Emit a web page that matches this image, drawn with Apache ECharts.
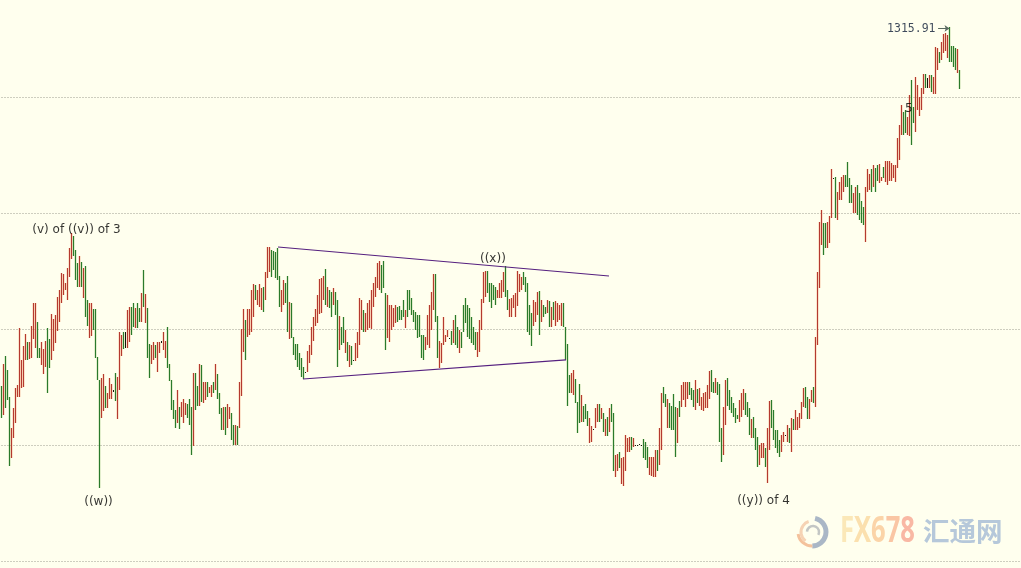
<!DOCTYPE html>
<html><head><meta charset="utf-8">
<style>html,body{margin:0;padding:0;background:#ffffee}#c{width:1021px;height:568px}</style>
<script src="https://cdn.jsdelivr.net/npm/echarts@6/dist/echarts.min.js"></script>
</head><body><div id="c"></div>
<script>
const highs = [
1285.1,1287.0,1287.7,1286.5,1284.1,1281.5,1283.2,1284.9,1285.2,1290.1,1287.3,1288.5,1289.6,1288.9,1288.9,1290.3,1292.2,1292.2,1290.6,1288.4,1288.9,1288.3,1289.0,1290.1,1289.1,1291.3,1290.9,1291.2,1292.8,1293.4,1294.8,1294.7,1294.0,1295.3,1297.0,1298.3,1298.0,1296.8,1295.7,1296.3,1295.8,1295.3,1295.4,1292.5,1292.2,1292.2,1291.7,1291.7,
1287.6,1285.6,1285.8,1286.1,1285.1,1284.5,1285.8,1285.3,1284.7,1286.2,1285.9,1289.7,1289.5,1289.7,1289.7,1291.6,1291.9,1291.9,1292.2,1291.8,1292.2,1291.8,1293.1,1295.1,1293.0,1291.8,1288.7,1288.6,1288.9,1288.6,1288.9,1288.9,1289.0,1289.7,1289.0,1290.2,1287.0,1285.6,1283.9,1283.0,1284.7,1283.3,1283.7,1284.0,1283.6,1283.5,1284.0,1283.3,1286.2,1286.2,1285.1,1287.0,1286.9,1285.4,1285.4,1285.4,1285.0,1285.2,1285.4,1287.0,1286.1,1284.5,1283.2,1283.3,1283.3,1283.5,1283.3,1282.8,1281.7,1281.7,1281.6,1285.4,
1290.0,1291.7,1290.8,1291.7,1291.7,1293.4,1293.9,1293.8,1293.4,1293.9,1293.5,1293.6,1294.9,1297.1,1297.1,1296.8,1296.7,1296.6,1297.0,1294.6,1293.4,1294.2,1294.0,1294.6,1292.3,1292.2,1289.3,1288.7,1288.7,1287.9,1287.5,1286.7,1286.3,1288.1,1288.6,1290.2,1291.0,1291.7,1292.9,1294.3,1294.4,1294.6,1295.2,1293.6,1293.4,1293.2,1293.5,1293.2,1292.5,1291.1,1290.2,1291.0,1289.9,1288.9,1288.6,1288.5,1287.3,1288.8,1289.7,1292.7,1292.5,1291.6,1291.4,1292.2,1292.5,1293.4,1294.0,1294.5,1295.7,1295.9,1295.5,1295.9,1293.1,1292.9,1292.1,1292.1,1291.8,1292.1,1291.9,1292.0,1291.6,1292.5,1291.6,1293.4,1293.4,1292.7,1291.6,1291.5,1291.2,1291.2,1289.5,1289.5,1289.3,1291.2,1292.1,1293.2,1294.7,1294.7,1291.1,1289.0,1288.8,1291.0,1289.5,1289.9,1289.2,1289.8,1290.8,1291.2,1290.2,1289.9,1289.7,1292.1,1292.7,1292.1,1291.8,1291.0,1290.2,1289.7,1289.7,1290.8,
1292.6,1294.9,1295.0,1295.0,1294.0,1294.0,1293.8,1293.6,1293.4,1294.0,1294.2,1294.9,1295.4,1293.4,1292.6,1292.7,1292.9,1293.1,1295.0,1294.7,1294.5,1294.9,1294.5,1294.0,1292.1,1291.4,1292.5,1292.3,1293.2,1293.3,1292.5,1292.1,1291.9,1292.5,1292.4,1291.9,1292.3,1292.4,1292.2,1292.1,1292.2,1292.2,1290.2,1288.7,1286.0,1286.2,1286.5,1285.7,1283.7,1285.3,1284.3,1283.4,1283.5,1282.9,1282.3,1281.6,1281.4,1283.2,1283.5,1283.5,1283.2,1282.8,1282.2,1282.4,1283.2,1283.5,1282.8,1279.1,1279.2,1279.4,1278.9,1279.0,1280.9,1280.6,1280.7,1280.7,1280.6,1280.0,1280.0,1280.1,1280.0,1280.5,1280.3,1279.8,1279.0,1279.0,1279.0,1279.6,1279.6,1281.5,1284.5,1285.0,1284.4,1284.0,1283.6,1283.4,1284.4,1283.3,1283.2,1283.8,1285.2,1285.4,1285.4,1285.4,1285.4,1284.9,1284.7,1285.6,1284.8,1284.9,1284.1,1284.5,1284.6,1285.2,1286.4,1286.5,1285.4,1285.8,1285.4,1285.3,
1281.5,1283.3,1285.6,1285.8,1284.7,1284.1,1283.6,1283.2,1282.6,1283.9,1284.5,1284.8,1284.5,1283.7,1283.2,1282.2,1282.4,1281.5,1280.7,1280.0,1280.2,1280.2,1279.7,1281.5,1283.8,1283.9,1283.0,1281.3,1281.3,1280.4,1280.9,1281.1,1280.9,1281.7,1281.5,1282.3,1282.2,1283.0,1282.4,1282.8,1283.7,1284.9,1285.0,1284.1,1284.0,1284.7,1285.0,1289.3,1294.9,1299.2,1300.3,1299.1,1299.1,1299.2,1299.7,1303.8,1303.0,1303.1,1301.8,1302.7,1303.1,1303.3,1303.3,1304.4,1303.0,1302.4,1301.7,1302.2,1302.4,1301.7,1301.0,1300.5,1302.2,
1303.8,1303.4,1303.8,1304.1,1303.9,1304.1,1304.2,1303.1,1304.0,1304.5,1304.5,1304.5,1304.3,1304.1,1304.1,1306.5,1307.6,1309.3,1308.7,1308.9,1308.3,1310.2,1311.5,1309.1,1311.7,1311.0,1310.0,1310.8,1312.0,1312.0,1311.6,1311.9,1311.9,1311.7,1314.3,1314.2,1313.9,1314.7,1315.4,1315.5,1315.3,1316.0,1314.4,1314.4,1314.2,1314.1,1312.3
];
const lows = [
1282.3,1282.6,1283.2,1283.9,1278.2,1278.9,1280.6,1281.9,1284.1,1284.1,1284.9,1285.0,1287.3,1287.3,1287.4,1287.5,1289.1,1288.4,1287.5,1287.5,1286.9,1286.1,1286.7,1284.5,1286.6,1287.3,1288.1,1288.8,1289.8,1290.6,1292.2,1292.9,1293.4,1292.5,1294.5,1296.0,1296.3,1294.2,1293.6,1293.6,1293.6,1292.7,1291.0,1290.3,1289.2,1289.4,1289.9,1287.5,
1285.6,1276.3,1282.3,1282.9,1283.2,1283.2,1284.0,1284.0,1284.6,1283.8,1282.2,1284.7,1287.7,1288.3,1288.4,1288.4,1288.9,1289.5,1290.2,1290.1,1290.1,1290.6,1290.6,1291.9,1290.5,1287.5,1285.8,1287.0,1287.3,1287.5,1286.3,1287.9,1288.8,1288.2,1287.5,1286.6,1285.5,1283.0,1282.2,1281.5,1281.9,1281.4,1282.4,1281.9,1282.6,1282.3,1281.7,1279.1,1279.9,1283.0,1283.4,1283.4,1283.7,1283.6,1283.9,1284.1,1284.5,1284.1,1284.5,1284.7,1284.0,1282.7,1281.3,1281.3,1280.9,1281.5,1282.2,1280.4,1280.0,1280.0,1280.0,1281.5,
1284.2,1288.0,1287.3,1289.3,1289.5,1289.7,1291.0,1292.5,1292.1,1291.9,1291.6,1291.5,1292.5,1294.4,1294.9,1294.5,1295.1,1294.4,1294.2,1291.9,1291.5,1292.1,1292.2,1289.7,1289.1,1289.2,1287.8,1287.3,1286.7,1286.5,1285.9,1285.7,1286.2,1286.3,1287.1,1287.8,1289.0,1290.3,1290.5,1291.3,1291.4,1292.5,1292.1,1291.9,1291.8,1291.0,1292.1,1291.2,1286.7,1288.2,1288.6,1288.8,1287.9,1287.2,1286.7,1286.9,1287.2,1287.2,1287.5,1288.6,1289.9,1289.7,1289.7,1289.9,1290.1,1290.0,1291.9,1292.8,1293.5,1293.4,1293.1,1293.5,1288.2,1289.2,1288.9,1289.9,1290.2,1290.5,1290.6,1290.8,1290.8,1291.0,1290.1,1291.0,1291.6,1291.2,1290.6,1289.9,1289.2,1289.3,1287.5,1287.3,1288.2,1288.6,1288.4,1289.9,1291.6,1290.6,1287.5,1286.6,1287.1,1288.6,1288.9,1289.3,1289.1,1288.6,1288.8,1288.6,1288.4,1287.9,1288.4,1289.7,1290.5,1289.3,1289.1,1288.8,1288.6,1288.2,1287.6,1288.0,
1289.9,1292.2,1292.8,1293.1,1292.3,1291.8,1292.5,1292.1,1292.7,1292.7,1292.7,1293.2,1292.8,1291.6,1291.0,1291.0,1291.8,1291.0,1292.0,1293.2,1293.4,1293.8,1293.2,1289.7,1289.5,1288.5,1290.3,1290.6,1291.2,1289.5,1290.6,1291.0,1291.3,1291.4,1290.2,1290.2,1290.8,1290.3,1290.6,1290.8,1290.3,1290.2,1287.3,1283.4,1284.5,1284.5,1284.3,1283.6,1281.0,1281.9,1282.0,1282.0,1282.2,1281.6,1280.2,1280.3,1281.3,1281.5,1282.0,1282.0,1282.2,1281.1,1280.8,1280.8,1281.1,1282.0,1277.8,1277.2,1277.8,1278.0,1276.6,1276.5,1277.8,1279.4,1279.4,1279.6,1279.8,1279.9,1279.9,1280.0,1279.9,1278.9,1278.7,1278.0,1277.4,1277.3,1277.2,1277.2,1277.8,1278.3,1279.6,1283.6,1283.3,1281.5,1281.5,1281.3,1281.3,1279.0,1280.2,1282.4,1283.3,1283.9,1283.3,1284.0,1284.3,1283.9,1283.3,1283.0,1283.6,1283.4,1283.0,1282.9,1283.2,1283.2,1284.0,1284.6,1284.5,1284.5,1284.3,1280.3,
1278.5,1279.1,1281.7,1283.4,1283.0,1282.8,1282.4,1281.9,1282.2,1282.0,1282.4,1283.0,1282.6,1282.4,1280.9,1280.6,1280.6,1279.6,1278.1,1278.3,1278.9,1278.9,1278.1,1276.7,1279.6,1281.5,1280.4,1279.7,1279.3,1279.0,1279.4,1280.3,1280.8,1280.3,1280.2,1279.4,1281.3,1281.3,1281.3,1281.5,1282.2,1283.3,1283.2,1282.2,1282.2,1283.7,1283.6,1283.3,1288.6,1293.5,1297.2,1296.4,1297.0,1297.0,1297.4,1299.6,1302.9,1299.6,1299.4,1301.1,1301.1,1301.8,1302.2,1302.2,1300.9,1300.9,1300.0,1300.0,1299.8,1299.4,1299.1,1299.0,1297.5,
1301.8,1302.0,1301.8,1302.2,1301.8,1302.8,1302.6,1302.8,1303.0,1302.7,1302.4,1302.8,1302.8,1303.0,1302.7,1303.9,1304.6,1306.7,1306.7,1306.9,1306.7,1306.6,1305.9,1307.8,1307.0,1308.9,1308.4,1308.9,1310.3,1310.8,1310.8,1310.8,1310.4,1310.3,1310.3,1312.3,1312.9,1313.2,1313.8,1314.0,1313.4,1313.0,1313.0,1312.6,1312.3,1312.1,1310.7
];
const directions = [
"grgggrrrrr","rrrgrrrrgg","rrrggrrrrr","rrrrrrgggr","grggrrgg",
"ggrrgrrrkg","rrrgkrrggr","ggrgrggrrg","rrkrrggggg","rgrrrgggrg","grgrrgrrgr","gggrgrrggr","gr",
"rrgrrrrgrr","rgrrrggggg","rrggrggggg","ggkrrrrrrr","rrgrggrggr","ggrgrgkrrr","rgrrrrrrrr","gggrrrrrgg","ggrggggggg","ggrrrrrggr","rrrrkgrggr","ggggggggrr",
"rrrgggggrr","rrggrrrrrr","rgggggrrrg","rggrgrgrrr","rggggrrggg","rgggrrkrrg","rgrgrggrrg","rrrrrgrkkk","kgggrrrrgr","rggrggggrg","rrrrgggrgr","rrrrrggrgg",
"grrggggggr","rrgggrgggr","rrgrrggggg","rrkrgrgrrr","rrggrrgrrr","rggrrrkgrr","rrggggrrgg","ggr",
"rrgrggrrgr","rrrrrrrrgg","rrggrrrrrg","krgrrrgrrr","rggggrg"
].join("");
const trendUpper = [[138.25,1297.07],[303.75,1294.57]];
const trendLower = [[150.75,1285.69],[282.25,1287.33]];
const lastPrice = 1315.91;
const gridStep = 10;

const corePalette = {r:'#b43a30', g:'#2a7a2c', k:'#141408'};
const haloPalette = {r:'rgba(235,120,70,0.2)', g:'rgba(110,170,70,0.2)', k:'rgba(0,0,0,0)'};
const barData = highs.map((h,i)=>[i,h,lows[i],directions[i]||'g']);
const labelStyle = {fontFamily:'"DejaVu Sans"',fontSize:12,color:'#000'};

const renderBar = (palette,width)=>(p,api)=>{
  const a=api.coord([api.value(0),api.value(1)]), b=api.coord([api.value(0),api.value(2)]);
  const x=Math.floor(a[0])+0.5, top=Math.round(a[1]);
  return {type:'line',shape:{x1:x,y1:top,x2:x,y2:Math.max(Math.round(b[1]),top+1)},
    style:{stroke:palette[barData[p.dataIndex][3]],lineWidth:width}};
};

const chart = echarts.init(document.getElementById('c'));
const notes = [
  {name:'(v) of ((v)) of 3', value:[37.5,1298.55]},
  {name:'((w))', value:[48.5,1275.1]},
  {name:'((x))', value:[245.7,1296.05]},
  {name:'((y)) of 4', value:[381,1275.2]},
  {name:'5', value:[453.7,1309.0]}
];
chart.setOption({
  backgroundColor:'#ffffee',
  animation:false,
  grid:{left:1.5,top:0,width:1019.5,height:561},
  xAxis:{type:'value',min:0,max:509.75,show:false},
  yAxis:{type:'value',min:1270,max:1318.36,interval:gridStep,
    axisLine:{show:false},axisTick:{show:false},axisLabel:{show:false},
    splitLine:{show:true,showMaxLine:false,lineStyle:{color:'#9c9c90',type:[1,2],width:1}}},
  series:[
    {type:'custom',data:barData,clip:false,silent:true,encode:{x:0,y:[1,2]},renderItem:renderBar(haloPalette,3)},
    {type:'custom',data:barData,clip:false,silent:true,encode:{x:0,y:[1,2]},renderItem:renderBar(corePalette,1)},
    {type:'line',data:trendUpper,showSymbol:false,silent:true,lineStyle:{color:'#55207f',width:1.2}},
    {type:'line',data:trendLower,showSymbol:false,silent:true,lineStyle:{color:'#55207f',width:1.2}},
    {type:'scatter',symbolSize:0,data:notes,silent:true,
     label:{show:true,position:'inside',formatter:p=>p.name,...labelStyle}},
    {type:'scatter',symbolSize:0,silent:true,data:[{value:[467,lastPrice]}],
     label:{show:true,position:'left',distance:0,offset:[0,1],formatter:()=>lastPrice.toFixed(2),
       fontFamily:'"DejaVu Sans Mono"',fontSize:11.5,color:'#0c1c34'},
     markLine:{silent:true,animation:false,symbol:['none','arrow'],symbolSize:5,label:{show:false},
       lineStyle:{color:'#5a6a60',type:'solid',width:1},
       data:[[{coord:[468.3,lastPrice]},{coord:[474,lastPrice]}]]}}
  ],
  graphic:{elements:[
    {type:'arc',shape:{cx:812,cy:532,r:14,startAngle:-1.35,endAngle:1.55},style:{stroke:'#aab7c6',fill:null,lineWidth:5},silent:true},
    {type:'arc',shape:{cx:812,cy:532,r:14,startAngle:1.55,endAngle:3.0},style:{stroke:'#f4c29c',fill:null,lineWidth:3},silent:true},
    {type:'arc',shape:{cx:812,cy:532,r:11,startAngle:2.2,endAngle:4.4},style:{stroke:'#f6d3b4',fill:null,lineWidth:3},silent:true},
    {type:'arc',shape:{cx:813,cy:532,r:6,startAngle:3.2,endAngle:6.8},style:{stroke:'#c3c6c4',fill:null,lineWidth:2.5},silent:true},
    {type:'text',x:840,y:532,scaleX:0.73,silent:true,style:{
      text:'{a|F}{b|X}{c|6}{d|7}{e|8}',textVerticalAlign:'middle',verticalAlign:'middle',font:'bold 35px "Open Sans"',
      rich:{
        a:{font:'bold 35px "Open Sans"',fill:'#fbe8b8'},
        b:{font:'bold 35px "Open Sans"',fill:'#fbe0ae'},
        c:{font:'bold 35px "Open Sans"',fill:'#fbd4a8'},
        d:{font:'bold 35px "Open Sans"',fill:'#fac6a4'},
        e:{font:'bold 35px "Open Sans"',fill:'#f9b8a4'}
      }}},
    {type:'text',x:923,y:518,silent:true,style:{text:'汇通网',font:'bold 26.5px "Noto Sans CJK SC"',fill:'#b6c8da'}}
  ]}
});
</script></body></html>
